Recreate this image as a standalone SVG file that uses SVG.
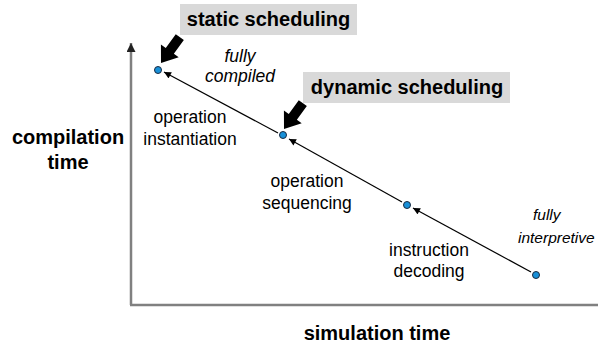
<svg xmlns="http://www.w3.org/2000/svg" width="598" height="347" viewBox="0 0 598 347">
  <style>
    .lbl { font-family: "Liberation Sans", Arial, sans-serif; font-size: 17.5px; fill: #000; text-anchor: middle; }
    .it { font-style: italic; }
    .narrow { font-size: 15.5px; text-anchor: start; }
    .bold { font-family: "Liberation Sans", Arial, sans-serif; font-weight: bold; font-size: 20px; fill: #000; text-anchor: middle; }
    .box { fill: #d9d9d9; }
    .dot { fill: #1890d8; stroke: #1a2a40; stroke-width: 1; }
    .axis { stroke: #808080; stroke-width: 2.5; fill: none; }
    .edge { stroke: #000; stroke-width: 1.2; fill: none; marker-end: url(#tri); }
    .pointer { fill: #000; }
  </style>
  <defs>
    <marker id="tri" viewBox="0 0 10 10" refX="10" refY="5" markerWidth="8" markerHeight="7" markerUnits="userSpaceOnUse" orient="auto">
      <path d="M0,0 L10,5 L0,10 Z" fill="#000"/>
    </marker>
    <marker id="axhead" viewBox="0 0 10 10" refX="10" refY="5" markerWidth="10" markerHeight="9" markerUnits="userSpaceOnUse" orient="auto">
      <path d="M0,0 L10,5 L0,10 Z" fill="#222"/>
    </marker>
    <!-- block arrow pointing along +x with its tip at the origin -->
    <path id="block" d="M0,0 L-15,-11 L-15,-5 L-32,-5 L-32,5 L-15,5 L-15,11 Z"/>
  </defs>

  <!-- axes -->
  <g id="axes">
    <line class="axis" x1="131" y1="305" x2="131" y2="43" marker-end="url(#axhead)"/>
    <line class="axis" x1="130" y1="305" x2="598" y2="305"/>
  </g>

  <!-- connectors -->
  <g id="connectors">
    <line class="edge" x1="531" y1="272" x2="413" y2="208"/>
    <line class="edge" x1="402" y1="202" x2="289" y2="139"/>
    <line class="edge" x1="278" y1="133" x2="164" y2="72"/>
  </g>

  <g id="node-fully-compiled">
    <circle class="dot" cx="158" cy="70" r="3.5"/>
  </g>
  <g id="node-operation-instantiation">
    <circle class="dot" cx="283" cy="135" r="3.5"/>
  </g>
  <g id="node-operation-sequencing">
    <circle class="dot" cx="407" cy="205" r="3.5"/>
  </g>
  <g id="node-fully-interpretive">
    <circle class="dot" cx="536" cy="275" r="3.5"/>
  </g>

  <!-- labels along the line -->
  <g id="labels">
    <text class="lbl it" x="240" y="62">fully</text>
    <text class="lbl it" x="240" y="82">compiled</text>
    <text class="lbl" x="190" y="123">operation</text>
    <text class="lbl" x="190" y="145">instantiation</text>
    <text class="lbl" x="307" y="187">operation</text>
    <text class="lbl" x="307" y="209">sequencing</text>
    <text class="lbl" x="429" y="256">instruction</text>
    <text class="lbl" x="429" y="277">decoding</text>
    <text class="lbl it narrow" x="533" y="220">fully</text>
    <text class="lbl it narrow" x="518" y="243">interpretive</text>
  </g>

  <!-- scheduling callouts -->
  <g id="static-scheduling">
    <rect class="box" x="180" y="4" width="177" height="31"/>
    <text class="bold" x="268.5" y="26">static scheduling</text>
    <use href="#block" class="pointer" transform="translate(161,63) rotate(126)"/>
  </g>
  <g id="dynamic-scheduling">
    <rect class="box" x="303" y="72" width="207" height="31"/>
    <text class="bold" x="407" y="94">dynamic scheduling</text>
    <use href="#block" class="pointer" transform="translate(284,129) rotate(126)"/>
  </g>

  <!-- axis titles -->
  <g id="axis-titles">
    <text class="bold" x="68" y="144">compilation</text>
    <text class="bold" x="68" y="169">time</text>
    <text class="bold" x="377" y="340">simulation time</text>
  </g>
</svg>
